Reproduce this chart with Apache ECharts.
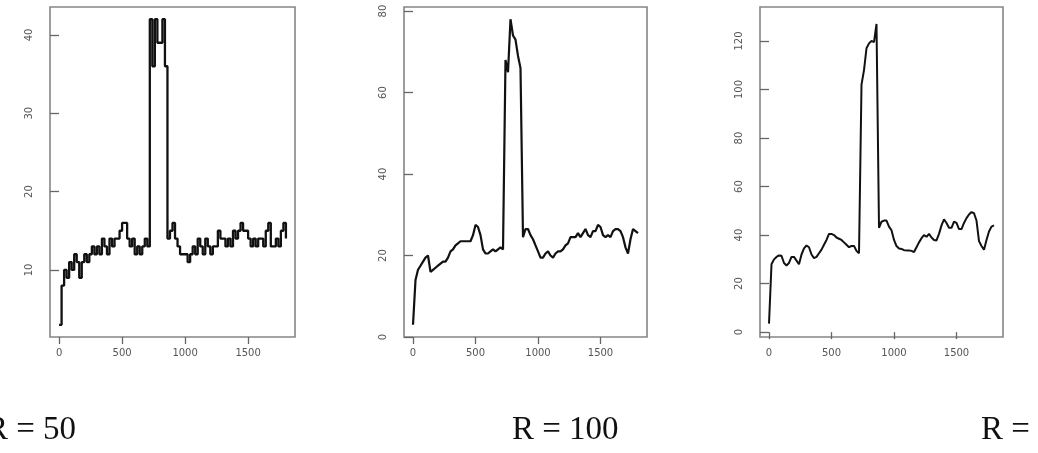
<!DOCTYPE html>
<html>
<head>
<meta charset="utf-8">
<title>R=50 / R=100 / R=200</title>
<script src="https://cdn.jsdelivr.net/npm/echarts@6/dist/echarts.min.js"></script>
<style>
  html, body { margin: 0; padding: 0; background: #fff; }
  #chart { width: 1038px; height: 453px; }
</style>
</head>
<body>
<div id="chart"></div>
<script>
// time index shared by the three runs
var xs = [
  0, 20, 40, 60, 80, 100, 120, 140, 160, 180,
  200, 220, 240, 260, 280, 300, 320, 340, 360, 380,
  400, 420, 440, 460, 480, 500, 520, 540, 560, 580,
  600, 620, 640, 660, 680, 700, 720, 740, 760, 780,
  800, 820, 840, 860, 880, 900, 920, 940, 960, 980,
  1000, 1020, 1040, 1060, 1080, 1100, 1120, 1140, 1160, 1180,
  1200, 1220, 1240, 1260, 1280, 1300, 1320, 1340, 1360, 1380,
  1400, 1420, 1440, 1460, 1480, 1500, 1520, 1540, 1560, 1580,
  1600, 1620, 1640, 1660, 1680, 1700, 1720, 1740, 1760, 1780,
  1800
]

var r50 = [
  3, 8, 10, 9, 11, 10, 12, 11, 9, 11,
  12, 11, 12, 13, 12, 13, 12, 14, 13, 12,
  14, 13, 14, 14, 15, 16, 16, 14, 13, 14,
  12, 13, 12, 13, 14, 13, 42, 36, 42, 39,
  39, 42, 36, 14, 15, 16, 14, 13, 12, 12,
  12, 11, 12, 13, 12, 14, 13, 12, 14, 13,
  12, 13, 13, 15, 14, 14, 13, 14, 13, 15,
  14, 15, 16, 15, 15, 14, 13, 14, 13, 14,
  14, 13, 15, 16, 13, 13, 14, 13, 15, 16,
  14
]

var r100 = [
  3, 14, 16.5, 17.5, 18.5, 19.5, 20, 16, 16.5, 17,
  17.5, 18, 18.5, 18.5, 19.5, 21, 21.5, 22.5, 23, 23.5,
  23.5, 23.5, 23.5, 23.5, 25, 27.5, 27, 25, 21.5, 20.5,
  20.5, 21, 21.5, 21, 21.5, 22, 21.5, 68, 65, 78,
  74, 73, 69, 66, 24.5, 26.5, 26.5, 25, 24, 22.5,
  21, 19.5, 19.5, 20.5, 21, 20, 19.5, 20.5, 21, 21,
  21.5, 22.5, 23, 24.5, 24.5, 24.5, 25.5, 24.5, 25.5, 26.5,
  25, 24.5, 26, 26, 27.5, 27, 25, 24.5, 25, 24.5,
  26, 26.5, 26.5, 26, 24.5, 22, 20.5, 24, 26.5, 26,
  25.5
]

var r200 = [
  3.5, 28, 30, 31, 31.6, 31.5, 28.5, 27.5, 28.5, 31,
  31, 29.5, 28, 32, 34.5, 35.7, 35, 32, 30.5, 31,
  32.5, 34, 36, 38, 40.5, 40.5, 40, 39, 38.5, 38,
  37, 36, 35, 35.5, 35.5, 33.5, 32.5, 102, 108, 117,
  119, 120, 119.5, 127, 43, 45.5, 46, 46, 43.5, 42,
  38, 35.5, 34.5, 34.3, 33.8, 33.7, 33.7, 33.5, 33, 35,
  37, 38.7, 40, 39.3, 40.5, 39, 38, 37.8, 40.5, 44,
  46.5, 45, 43, 43, 45.5, 45, 42.5, 42.5, 45, 47,
  48.5, 49.5, 49, 46, 37.5, 35.5, 34, 38, 41.5, 43.5,
  44
]

var xTicks = [0, 500, 1000, 1500]
var yTicks50 = [10, 20, 30, 40]
var yTicks100 = [0, 20, 40, 60, 80]
var yTicks200 = [0, 20, 40, 60, 80, 100, 120]
var panelLabels = ['R=50', 'R=100', 'R=200']

function pairs(ys) {
  return xs.map(function (x, i) { return [x, ys[i]] })
}

function plain(v) {
  return String(v)
}

function xAxisFor(idx) {
  return {
    type: 'value', gridIndex: idx, min: -72, max: 1872,
    axisLine: { show: false },
    splitLine: { show: false },
    axisTick: { length: 7, customValues: xTicks, lineStyle: { color: '#666', width: 1.3 } },
    axisLabel: {
      customValues: xTicks, formatter: plain, margin: 11, color: '#555',
      fontFamily: 'DejaVu Sans', fontSize: 10
    }
  }
}

function yAxisFor(idx, min, max, ticks) {
  return {
    type: 'value', gridIndex: idx, min: min, max: max,
    axisLine: { show: false },
    splitLine: { show: false },
    axisTick: { length: 9, customValues: ticks, lineStyle: { color: '#666', width: 1.3 } },
    axisLabel: {
      customValues: ticks, formatter: plain, rotate: 90, margin: 16, color: '#555',
      fontFamily: 'DejaVu Sans', fontSize: 10
    }
  }
}

var chart = echarts.init(document.getElementById('chart'))

var gridStyle = { show: true, borderColor: '#858585', borderWidth: 1.6, backgroundColor: '#fff' }

var option = {
  animation: false,
  backgroundColor: '#fff',
  grid: [
    Object.assign({ left: 50, top: 7, width: 245, height: 330 }, gridStyle),
    Object.assign({ left: 404, top: 7, width: 243, height: 330 }, gridStyle),
    Object.assign({ left: 760, top: 7, width: 243, height: 330 }, gridStyle)
  ],
  xAxis: [xAxisFor(0), xAxisFor(1), xAxisFor(2)],
  yAxis: [
    yAxisFor(0, 1.44, 43.56, yTicks50),
    yAxisFor(1, 0, 81, yTicks100),
    yAxisFor(2, -2, 134, yTicks200)
  ],
  series: [
    {
      type: 'line', xAxisIndex: 0, yAxisIndex: 0, data: pairs(r50),
      step: 'end', showSymbol: false, silent: true,
      lineStyle: { color: '#111', width: 2.3 }
    },
    {
      type: 'line', xAxisIndex: 1, yAxisIndex: 1, data: pairs(r100),
      showSymbol: false, silent: true,
      lineStyle: { color: '#111', width: 2.2 }
    },
    {
      type: 'line', xAxisIndex: 2, yAxisIndex: 2, data: pairs(r200),
      showSymbol: false, silent: true,
      lineStyle: { color: '#111', width: 2 }
    }
  ],
  graphic: [
    {
      type: 'text', x: 76, y: 430,
      style: { text: panelLabels[0].replace('=', ' = '), font: '33px "Liberation Serif"', fill: '#111', textAlign: 'right', textVerticalAlign: 'middle' }
    },
    {
      type: 'text', x: 512, y: 430,
      style: { text: panelLabels[1].replace('=', ' = '), font: '33px "Liberation Serif"', fill: '#111', textAlign: 'left', textVerticalAlign: 'middle' }
    },
    {
      type: 'text', x: 981, y: 430,
      style: { text: panelLabels[2].replace('=', ' = '), font: '33px "Liberation Serif"', fill: '#111', textAlign: 'left', textVerticalAlign: 'middle' }
    }
  ]
}

chart.setOption(option)
</script>
</body>
</html>
